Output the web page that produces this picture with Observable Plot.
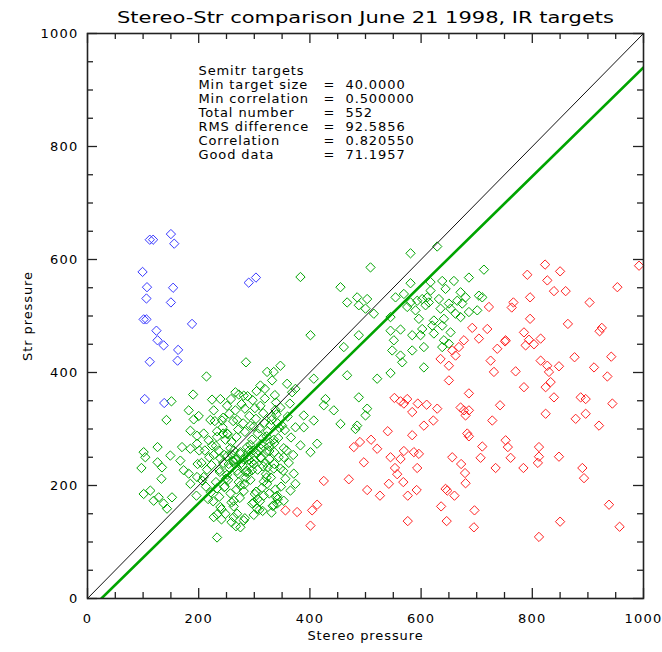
<!DOCTYPE html>
<html><head><meta charset="utf-8">
<script src="https://cdn.jsdelivr.net/npm/d3@7"></script>
<script src="https://cdn.jsdelivr.net/npm/@observablehq/plot@0.6"></script>
<style>
html,body{margin:0;padding:0;background:#fff;}
#chart svg{display:block;}
</style></head><body><div id="chart"></div>
<script>
// ---- data (stereo pressure, str pressure) ----
const bluePts = [[112,635],[118,635],[150,645],[156,628],[99,578],[107,551],[106,531],[154,550],[150,524],[101,494],[106,494],[124,474],[126,457],[137,448],[188,486],[163,440],[162,421],[112,419],[290,559],[303,568],[103,353],[138,346]];

const redPts = [[823,591],[850,579],[791,573],[827,563],[839,544],[860,544],[796,533],[766,524],[763,515],[903,524],[796,495],[864,486],[925,479],[921,473],[785,471],[794,458],[788,448],[803,450],[815,460],[751,455],[953,551],[992,589],[876,427],[942,428],[911,409],[935,393],[815,421],[827,412],[830,401],[848,411],[833,383],[824,374],[770,402],[785,374],[839,356],[887,356],[896,353],
[650,386],[686,363],[552,355],[563,349],[575,353],[569,345],[594,345],[610,343],[629,336],[584,330],[671,338],[677,333],[686,333],[680,324],[742,342],[728,315],
[824,327],[896,327],[878,318],[920,306],[944,345],[605,306],[622,315],[540,296],[584,289],[683,292],[686,287],[710,269],[752,280],[756,268],[812,268],[812,251],[810,240],[848,251],[890,231],[893,213],[479,268],[490,277],[510,281],[521,265],[497,241],[545,250],[563,247],[569,261],[587,259],[596,256],[553,231],[557,220],[593,231],[656,250],[672,238],[707,249],[734,231],[761,249],[784,231],[679,222],[680,204],[425,208],[470,211],[503,192],[526,182],[542,203],[568,206],[576,182],[592,192],[644,194],[647,191],[660,182],[413,166],[404,156],[401,129],[576,137],[636,163],[646,137],[696,156],[695,126],[812,109],[850,136],[938,166],[957,127],[356,156],[377,153],
[722,516],[719,477],[692,479],[704,460],[677,457],[668,445],[656,439],[662,430],[635,424],[650,412],[752,457],[737,442],[725,421],[731,401]];

const greenPts = [[383,569],[401,466],[285,418],[214,393],[347,412],[323,401],
[190,361],[151,349],[182,333],[142,316],[191,317],[200,323],[224,352],[239,353],[227,333],[221,316],[242,315],[266,365],[281,359],[185,297],[197,288],[170,268],[185,265],[197,274],[126,268],[101,259],[104,250],[97,231],[126,241],[134,232],[133,212],[149,253],[167,244],[173,227],[185,203],[197,215],[206,209],[182,221],[101,185],[113,191],[119,173],[128,179],[137,168],[152,179],[143,159],[196,182],[233,108],[227,144],[239,162],[248,150],[263,144],[275,126],[281,138],[209,292],[218,280],[233,286],[251,292],
[335,401],[332,386],[311,377],[359,380],[374,371],[368,365],[407,389],[461,445],[488,466],[467,395],[521,389],[488,356],[503,336],[500,324],[428,353],[425,342],[443,333],[389,324],[407,315],[374,303],[389,303],[455,309],[485,306],[482,300],[383,271],[401,259],[413,274],[353,250],[347,230],[371,221],[374,203],[365,191],[341,182],[335,165],[353,173],[323,203],[317,182],[299,170],[305,159],[269,150],[263,173],
[581,611],[629,623],[713,582],[686,568],[659,562],[638,562],[617,560],[581,558],[617,545],[611,533],[644,548],[671,542],[680,533],[632,530],[650,522],[665,527],[674,522],[704,536],[710,533],[569,539],[554,533],[581,524],[593,527],[602,530],[608,519],[614,524],[635,513],[653,513],[662,504],[671,498],[686,507],[701,510],[590,510],[596,495],[575,516],[545,498],[515,504],[509,586],[623,492],[641,495],[545,474],[563,476],[602,477],[620,483],[638,483],[653,471],[584,466],[599,466],[623,469],[641,457],[650,451],[638,445],[551,457],[548,439],[584,439],[605,445],[563,430],[566,418],[605,409],[545,399],
[455,551],[467,524],[485,533],[503,530],[488,519],[500,513],
[236,262],[248,281],[243,303],[257,266],[252,291],[262,314],[259,277],[271,299],[266,333],[275,259],[268,286],[280,310],[277,344],[287,268],[283,295],[291,323],[288,251],[296,281],[293,306],[301,337],[298,262],[306,292],[303,318],[297,351],[312,273],[309,301],[316,328],[305,257],[322,287],[318,311],[311,341],[327,269],[324,296],[331,322],[319,354],[335,281],[329,307],[338,334],[327,261],[244,292],[331,316],[339,347],[336,275],[345,302],[340,326],[244,320],[251,341],[258,353],[262,244],[272,361],[281,246],[288,358],[295,241],[304,367],[312,250],[319,371],[327,247],[336,259],[343,284],[350,306],[353,266],[239,248],[233,296],[229,314],[224,271],[255,327],[269,316],[283,336],[299,304],[315,284],
[222,188],[231,206],[226,172],[238,224],[233,195],[244,240],[237,180],[249,212],[241,158],[255,231],[246,197],[259,170],[251,219],[266,246],[257,186],[272,206],[263,163],[279,236],[268,193],[285,214],[274,178],[291,245],[282,202],[296,168],[287,226],[303,189],[293,210],[309,157],[299,238],[314,196],[306,176],[321,220],[311,249],[327,186],[317,207],[333,164],[324,232],[338,193],[330,214],[342,176],[262,242],[275,200],[289,222],[301,185],[316,234],[253,210],[268,246],[281,190],[296,227],[310,172],[322,214],[336,238],[247,198],[259,255],[271,221],[227,254],[233,149],[241,140],[251,252],[259,135],[267,128],[275,256],[283,142],[291,262],[299,148],[307,262],[315,155],[323,261],[331,152],[339,180],
[205,240],[211,262],[215,228],[219,250],[223,236],[231,270],[237,228],[246,254],[254,238],[263,262],[269,226],[277,240],[285,224],[293,272],[300,244],[306,228],[312,265],[320,240],[328,276],[335,230],[344,250],[352,226],[358,262],[362,240],[366,285],[370,254],[348,198],[356,212],[341,168],[213,198],[217,176],[209,215],[201,262],[198,238],[342,310],[355,298],[360,322],[347,338],[364,345],[337,360]];

// reference lines
const identityX = [0, 1000], identityY = [0, 1000];
const fitX = [25, 1000], fitY = [0, 940];

// axes
const majorTicks = [0, 200, 400, 600, 800, 1000];
const minorTicks = [50, 100, 150, 250, 300, 350, 450, 500, 550, 650, 700, 750, 850, 900, 950];

// texts
const titleText = "Stereo-Str comparison June 21 1998, IR targets";
const xTitle = "Stereo pressure";
const yTitle = "Str pressure";
const statLabels = ["Semitr targets", "Min target size", "Min correlation", "Total number", "RMS difference", "Correlation", "Good data"];
const statValues = ["", "40.0000", "0.500000", "552", "92.5856", "0.820550", "71.1957"];

// ---- layout ----
const W = 662, H = 652, mL = 87, mR = 19, mT = 33, mB = 54;
const innerW = W - mL - mR, innerH = H - mT - mB;
const majLen = 10, minLen = 6;
const axisColor = "#222";
const GREEN = "#00a400", RED = "#ff2020", BLUE = "#3838ff";

const line = (xs, ys) => xs.map((x, i) => ({x, y: ys[i]}));
const tickMarks = (ticks, len) => [
  Plot.ruleX(ticks, {x: d => d, insetTop: innerH - len, stroke: axisColor, strokeWidth: 1.3}),
  Plot.ruleX(ticks, {x: d => d, insetBottom: innerH - len, stroke: axisColor, strokeWidth: 1.3}),
  Plot.ruleY(ticks, {y: d => d, insetRight: innerW - len, stroke: axisColor, strokeWidth: 1.3}),
  Plot.ruleY(ticks, {y: d => d, insetLeft: innerW - len, stroke: axisColor, strokeWidth: 1.3})
];
const dotOpts = (color) => ({x: d => d[0], y: d => d[1], symbol: "diamond2", r: 4.2, stroke: color, strokeWidth: 1, fill: "none"});

const statMarks = [];
statLabels.forEach((s, i) => {
  const dy = 37 + i * 14;
  statMarks.push(Plot.text([s], {frameAnchor: "top-left", text: d => d, dx: 111, dy, lineAnchor: "middle", textAnchor: "start", fontSize: 13}));
  if (statValues[i]) {
    statMarks.push(Plot.text(["="], {frameAnchor: "top-left", text: d => d, dx: 236, dy, lineAnchor: "middle", textAnchor: "start", fontSize: 13}));
    statMarks.push(Plot.text([statValues[i]], {frameAnchor: "top-left", text: d => d, dx: 258, dy, lineAnchor: "middle", textAnchor: "start", fontSize: 13}));
  }
});

const chart = Plot.plot({
  width: W, height: H,
  marginLeft: mL, marginRight: mR, marginTop: mT, marginBottom: mB,
  style: {fontFamily: "DejaVu Sans", background: "#fff", color: "#000"},
  x: {domain: [0, 1000], nice: false, axis: null},
  y: {domain: [0, 1000], nice: false, axis: null},
  marks: [
    Plot.dot(greenPts, dotOpts(GREEN)),
    Plot.dot(redPts, dotOpts(RED)),
    Plot.dot(bluePts, dotOpts(BLUE)),
    Plot.line(line(identityX, identityY), {x: "x", y: "y", stroke: "#111", strokeWidth: 1, clip: true}),
    Plot.line(line(fitX, fitY), {x: "x", y: "y", stroke: GREEN, strokeWidth: 2.6, clip: true}),
    ...tickMarks(majorTicks, majLen),
    ...tickMarks(minorTicks, minLen),
    Plot.frame({stroke: axisColor, strokeWidth: 1.6}),
    Plot.axisX(majorTicks, {anchor: "bottom", tickSize: 0, tickPadding: 15, fontSize: 13, tickFormat: d => String(d), label: null}),
    Plot.axisY(majorTicks, {anchor: "left", tickSize: 0, tickPadding: 9, fontSize: 13, tickFormat: d => String(d), label: null}),
    Plot.text([titleText], {frameAnchor: "top", text: d => d, dy: -16, lineAnchor: "middle", textAnchor: "middle", fontSize: 16}),
    Plot.text([xTitle], {frameAnchor: "bottom", text: d => d, dy: 37, lineAnchor: "middle", textAnchor: "middle", fontSize: 13}),
    Plot.text([yTitle], {frameAnchor: "left", text: d => d, dx: -60, rotate: -90, lineAnchor: "middle", textAnchor: "middle", fontSize: 13}),
    ...statMarks
  ]
});
document.getElementById("chart").appendChild(chart);
const svg = d3.select(chart);
svg.selectAll("text").style("letter-spacing", "0.9px").attr("fill", "#000");
svg.selectAll("text").filter(function () { return this.textContent === titleText; })
  .style("letter-spacing", "0px")
  .attr("textLength", 497)
  .attr("lengthAdjust", "spacingAndGlyphs");
svg.selectAll("text").filter(function () { return majorTicks.map(String).includes(this.textContent); })
  .style("letter-spacing", "1.2px");
</script></body></html>
